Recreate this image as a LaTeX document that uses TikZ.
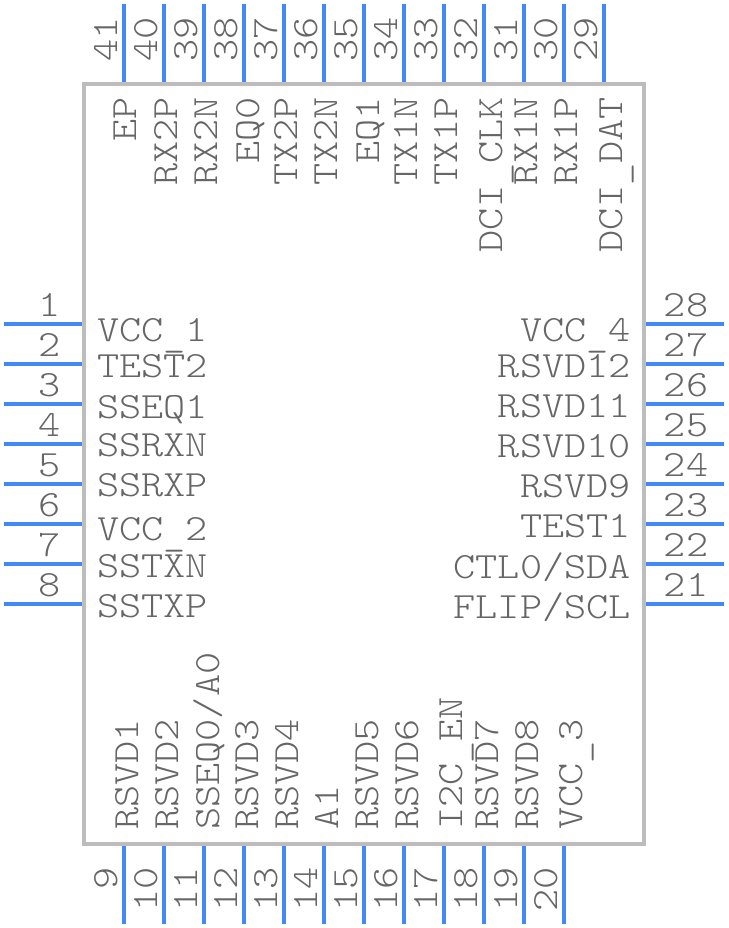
\documentclass[tikz,border=0pt]{standalone}
\usepackage{fontspec}
\setmonofont[FakeStretch=1.14]{Latin Modern Mono Light}
\definecolor{bodyLine}{HTML}{BDBDBD}
\definecolor{pinLine}{HTML}{4488F8}
\definecolor{textGrey}{HTML}{666666}
\newcommand{\lowbar}{\smash{\raisebox{-5pt}{\_}}}
\tikzset{
  pinline/.style={pinLine, line width=4pt},
  pintext/.style={textGrey, inner sep=0pt, font=\fontsize{37}{37}\selectfont\ttfamily},
}
\begin{document}
\begin{tikzpicture}[x=1pt, y=-1pt]
   \useasboundingbox (0,0) rectangle (728,928);

   \draw [bodyLine, line width=4pt] (84,84) rectangle (644,844);

   % top side
   \foreach \n [count=\i] in {41,40,...,29}
   {
     \pgfmathsetmacro{\posx}{84 + 40 * \i}
     \coordinate (pinTa\n) at (\posx, 4);
     \coordinate (pinTb\n) at (\posx, 82);
     \draw [pinline] (pinTa\n) -- (pinTb\n);
     \node [pintext, rotate=90, anchor=base east] (numT\n) at (\posx - 7, 17) {\n};
   }

   % bottom side
   \foreach \n [count=\i] in {9,10,...,20}
   {
     \pgfmathsetmacro{\posx}{84 + 40 * \i}
     \coordinate (pinBa\n) at (\posx, 846);
     \coordinate (pinBb\n) at (\posx, 924);
     \draw [pinline] (pinBa\n) -- (pinBb\n);
     \node [pintext, rotate=90, anchor=base east] (numB\n) at (\posx - 7, 867) {\n};
   }

   % left side
   \foreach \n [count=\i] in {1,2,...,8}
   {
     \pgfmathsetmacro{\posy}{284 + 40 * \i}
     \coordinate (pinLa\n) at (4, \posy);
     \coordinate (pinLb\n) at (82, \posy);
     \draw [pinline] (pinLa\n) -- (pinLb\n);
     \node [pintext, anchor=base] (numL\n) at (50, \posy - 8) {\n};
   }

   % right side
   \foreach \n [count=\i] in {28,27,...,21}
   {
     \pgfmathsetmacro{\posy}{284 + 40 * \i}
     \coordinate (pinRa\n) at (646, \posy);
     \coordinate (pinRb\n) at (724, \posy);
     \draw [pinline] (pinRa\n) -- (pinRb\n);
     \node [pintext, anchor=base] (numR\n) at (686, \posy - 8) {\n};
   }

   % names, given as pin / text / baseline
   \foreach \n/\name/\posx in {41/EP/136, 40/RX2P/177, 39/RX2N/217, 38/EQ0/259, 37/TX2P/297,
       36/TX2N/337, 35/EQ1/379, 34/TX1N/417, 33/TX1P/457, 32/DCI\lowbar CLK/502,
       31/RX1N/537, 30/RX1P/577, 29/DCI\lowbar DAT/622}
     \node [pintext, rotate=90, anchor=base east] (nameT\n) at (\posx, 97) {\name};

   \foreach \n/\name/\posx in {9/RSVD1/138, 10/RSVD2/178, 11/SSEQ0\slash A0/219, 12/RSVD3/258,
       13/RSVD4/298, 14/A1/338, 15/RSVD5/378, 16/RSVD6/418, 17/I2C\lowbar EN/462,
       18/RSVD7/498, 19/RSVD8/538, 20/VCC\lowbar 3/582}
     \node [pintext, rotate=90, anchor=base west] (nameB\n) at (\posx, 830) {\name};

   \foreach \n/\name/\posy in {1/VCC\lowbar 1/341, 2/TEST2/377, 3/SSEQ1/418, 4/SSRXN/456,
       5/SSRXP/496, 6/VCC\lowbar 2/540, 7/SSTXN/577, 8/SSTXP/617}
     \node [pintext, anchor=base west] (nameL\n) at (97, \posy) {\name};

   \foreach \n/\name/\posy in {28/VCC\lowbar 4/341, 27/RSVD12/377, 26/RSVD11/417, 25/RSVD10/457,
       24/RSVD9/497, 23/TEST1/537, 22/CTL0\slash SDA/578, 21/FLIP\slash SCL/618}
     \node [pintext, anchor=base east] (nameR\n) at (631, \posy) {\name};

\end{tikzpicture}
\end{document}
